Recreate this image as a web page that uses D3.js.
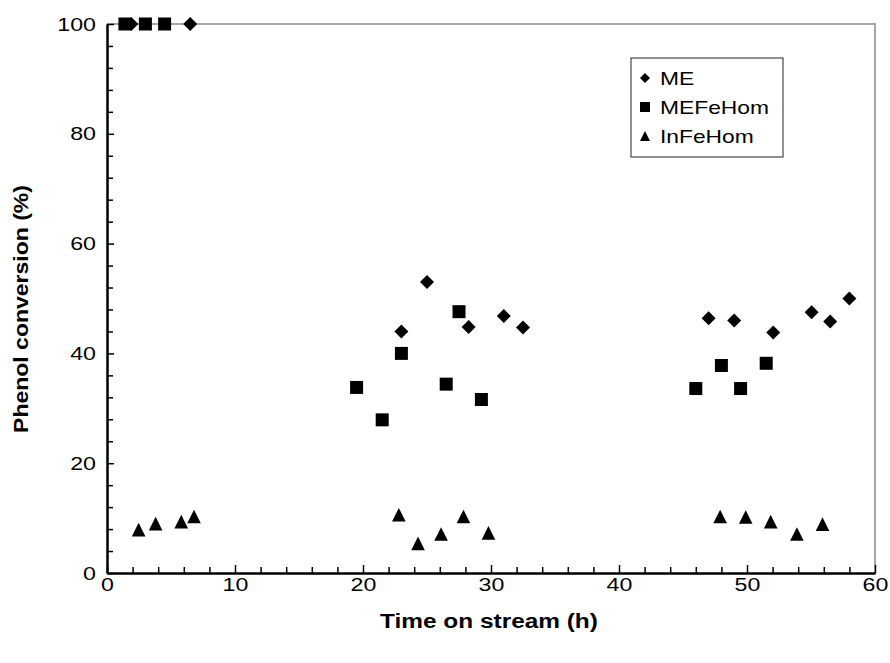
<!DOCTYPE html>
<html>
<head>
<meta charset="utf-8">
<script src="https://cdn.jsdelivr.net/npm/d3@7"></script>
<style>
  html, body { margin: 0; padding: 0; background: #fff; }
  svg { display: block; }
  text { font-family: "Liberation Sans", Arial, sans-serif; fill: #000; }
</style>
</head>
<body>
<svg id="chart" width="890" height="663"></svg>
<script>
// Phenol conversion vs time on stream for three catalysts
const seriesNames = ["ME", "MEFeHom", "InFeHom"];

const meTime = [1.9, 6.5, 23.0, 25.0, 28.25, 31.0, 32.5, 47.0, 49.0, 52.05, 55.05, 56.5, 58.0];
const meConv = [100, 100, 44.0, 53.0, 44.8, 46.8, 44.7, 46.4, 46.0, 43.8, 47.5, 45.8, 50.0];

const mefeTime = [1.4, 3.0, 4.5, 19.5, 21.5, 23.0, 26.5, 27.5, 29.25, 46.0, 48.0, 49.5, 51.5];
const mefeConv = [100, 100, 100, 33.8, 27.9, 40.0, 34.4, 47.6, 31.6, 33.6, 37.8, 33.6, 38.2];

const infeTime = [2.47, 3.8, 5.8, 6.8, 22.8, 24.3, 26.1, 27.85, 29.8, 47.9, 49.9, 51.85, 53.9, 55.9];
const infeConv = [7.9, 9.0, 9.35, 10.3, 10.6, 5.4, 7.1, 10.3, 7.3, 10.3, 10.2, 9.35, 7.1, 8.9];

const xMajorTicks = [0, 10, 20, 30, 40, 50, 60];
const yMajorTicks = [0, 20, 40, 60, 80, 100];

const svg = d3.select("#chart");
const x = d3.scaleLinear().domain([0, 60]).range([107, 875]);
const y = d3.scaleLinear().domain([0, 100]).range([573, 24]);

// widen a text element along its baseline (the chart font runs broad)
function widen(sel, k) {
  sel.each(function () {
    const len = this.getComputedTextLength();
    d3.select(this).attr("textLength", len * k).attr("lengthAdjust", "spacingAndGlyphs");
  });
}

// plot frame: grey top and right edges
svg.append("path")
  .attr("d", `M${x(0)},${y(100)}H${x(60)}V${y(0)}`)
  .attr("fill", "none").attr("stroke", "#a6a6a6").attr("stroke-width", 2);

// x axis: minor ticks every 2 h, major every 10 h, pointing into the plot
const xMinor = d3.range(0, 61, 2).filter(v => v % 10 !== 0);
const xAxisMinor = d3.axisBottom(x).tickValues(xMinor).tickSizeInner(-6).tickSizeOuter(0).tickFormat("");
const xAxisMajor = d3.axisBottom(x).tickValues(xMajorTicks).tickSizeInner(-8).tickSizeOuter(0)
  .tickPadding(5).tickFormat(d3.format("d"));
const gxMin = svg.append("g").attr("transform", `translate(0,${y(0)})`).call(xAxisMinor);
const gx = svg.append("g").attr("transform", `translate(0,${y(0)})`).call(xAxisMajor);
[gxMin, gx].forEach(g => {
  g.select(".domain").attr("stroke", "#000").attr("stroke-width", 2);
  g.selectAll(".tick line").attr("stroke", "#000").attr("stroke-width", 1.5);
});
gx.selectAll(".tick text").attr("font-size", 19).attr("font-family", "Liberation Sans, Arial, sans-serif")
  .call(widen, 1.22);

// y axis: minor ticks every 4 %, major every 20 %
const yMinor = d3.range(0, 101, 4).filter(v => v % 20 !== 0);
const yAxisMinor = d3.axisLeft(y).tickValues(yMinor).tickSizeInner(-6).tickSizeOuter(0).tickFormat("");
const yAxisMajor = d3.axisLeft(y).tickValues(yMajorTicks).tickSizeInner(-7).tickSizeOuter(0)
  .tickPadding(11).tickFormat(d3.format("d"));
const gyMin = svg.append("g").attr("transform", `translate(${x(0)},0)`).call(yAxisMinor);
const gy = svg.append("g").attr("transform", `translate(${x(0)},0)`).call(yAxisMajor);
[gyMin, gy].forEach(g => {
  g.select(".domain").attr("stroke", "#000").attr("stroke-width", 2);
  g.selectAll(".tick line").attr("stroke", "#000").attr("stroke-width", 1.5);
});
gy.selectAll(".tick text").attr("font-size", 19).attr("font-family", "Liberation Sans, Arial, sans-serif")
  .call(widen, 1.22);

// axis titles
svg.append("text")
  .attr("x", 489).attr("y", 628).attr("text-anchor", "middle")
  .attr("font-size", 20).attr("font-weight", "bold")
  .text("Time on stream (h)")
  .call(widen, 1.22);
svg.append("text")
  .attr("transform", "translate(28,309) rotate(-90)").attr("text-anchor", "middle")
  .attr("font-size", 20).attr("font-weight", "bold")
  .text("Phenol conversion (%)")
  .call(widen, 1.15);

// marker shapes
const diamondPath = s => `M0,${-s}L${s},0L0,${s}L${-s},0Z`;
const squarePath = s => `M${-s},${-s}H${s}V${s}H${-s}Z`;
const trianglePath = s => `M0,${-s}L${s},${s}H${-s}Z`;

const series = [
  { name: "MEFeHom", t: mefeTime, v: mefeConv, path: squarePath(6.5) },
  { name: "ME", t: meTime, v: meConv, path: diamondPath(7) },
  { name: "InFeHom", t: infeTime, v: infeConv, path: trianglePath(6.8) }
];

series.forEach(s => {
  svg.append("g").attr("class", "series-" + s.name)
    .selectAll("path")
    .data(s.t.map((t, i) => [t, s.v[i]]))
    .join("path")
    .attr("transform", d => `translate(${x(d[0])},${y(d[1])})`)
    .attr("d", s.path)
    .attr("fill", "#000");
});

// legend
const lg = svg.append("g").attr("transform", "translate(631,58)");
lg.append("rect").attr("x", 0).attr("y", 0).attr("width", 152).attr("height", 99)
  .attr("fill", "#fff").attr("stroke", "#222").attr("stroke-width", 1);
const legendShapes = { ME: diamondPath(5), MEFeHom: squarePath(5), InFeHom: trianglePath(5) };
seriesNames.forEach((n, i) => {
  const cy = 20 + i * 29;
  lg.append("path").attr("transform", `translate(14,${cy})`).attr("d", legendShapes[n]).attr("fill", "#000");
  lg.append("text").attr("x", 29).attr("y", cy + 7).attr("font-size", 19).text(n)
    .call(widen, 1.2);
});
</script>
</body>
</html>
